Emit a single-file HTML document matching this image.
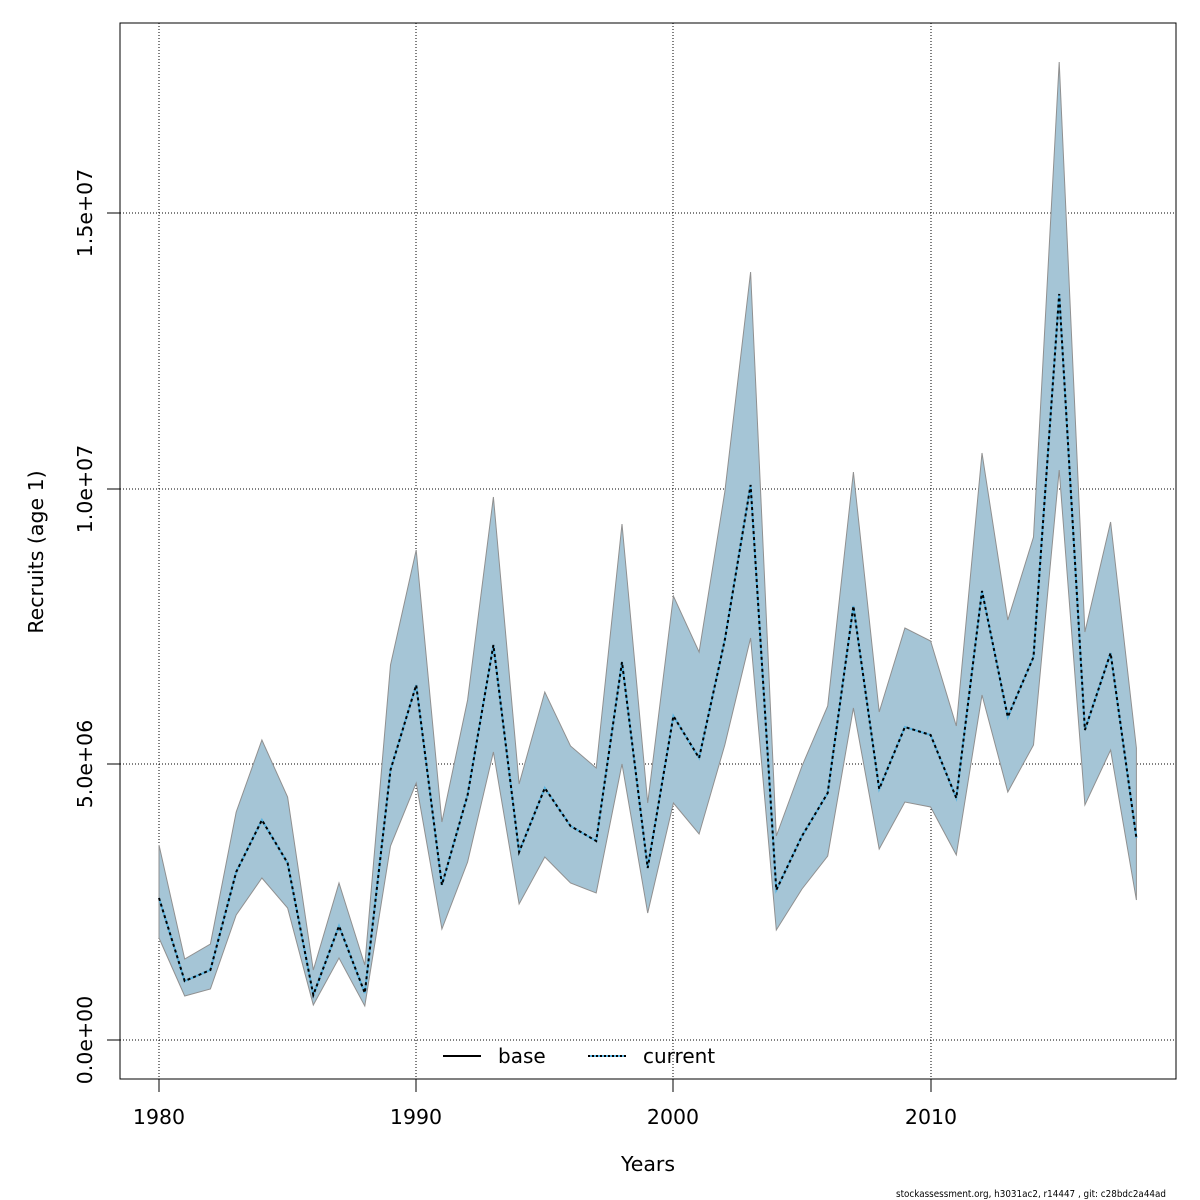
<!DOCTYPE html>
<html><head><meta charset="utf-8"><style>html,body{margin:0;padding:0;background:#fff}svg{display:block}text{font-family:"DejaVu Sans","Liberation Sans",sans-serif;fill:#000}</style></head>
<body>
<svg id="s" width="1200" height="1200" viewBox="0 0 1200 1200" xmlns="http://www.w3.org/2000/svg">
<rect x="0" y="0" width="1200" height="1200" fill="#fff"/>
<g stroke="#000" stroke-width="1" stroke-dasharray="1,2" fill="none">
<line x1="159" y1="23" x2="159" y2="1079"/><line x1="416" y1="23" x2="416" y2="1079"/>
<line x1="673" y1="23" x2="673" y2="1079"/><line x1="931" y1="23" x2="931" y2="1079"/>
<line x1="120" y1="1040" x2="1176" y2="1040"/><line x1="120" y1="764" x2="1176" y2="764"/>
<line x1="120" y1="489" x2="1176" y2="489"/><line x1="120" y1="213" x2="1176" y2="213"/>
</g>
<g id="data"></g>
<rect x="120" y="23" width="1056" height="1056" fill="none" stroke="#000" stroke-width="1"/>
<g stroke="#000" stroke-width="1">
<line x1="159" y1="1079" x2="159" y2="1092"/><line x1="416" y1="1079" x2="416" y2="1092"/>
<line x1="673" y1="1079" x2="673" y2="1092"/><line x1="931" y1="1079" x2="931" y2="1092"/>
<line x1="107" y1="1040" x2="120" y2="1040"/><line x1="107" y1="764" x2="120" y2="764"/>
<line x1="107" y1="489" x2="120" y2="489"/><line x1="107" y1="213" x2="120" y2="213"/>
</g>
<g font-size="20.5" text-anchor="middle">
<text x="159" y="1124">1980</text><text x="416" y="1124">1990</text>
<text x="673" y="1124">2000</text><text x="931" y="1124">2010</text>
<text x="648" y="1171">Years</text>
<text transform="translate(92,1040) rotate(-90)">0.0e+00</text>
<text transform="translate(92,764) rotate(-90)">5.0e+06</text>
<text transform="translate(92,489) rotate(-90)">1.0e+07</text>
<text transform="translate(92,213) rotate(-90)">1.5e+07</text>
<text transform="translate(43,552) rotate(-90)">Recruits (age 1)</text>
</g>
<line x1="443" y1="1056" x2="481" y2="1056" stroke="#000" stroke-width="2"/>
<text x="498" y="1063" font-size="20">base</text>
<line x1="588" y1="1056" x2="626" y2="1056" stroke="#5ab4e0" stroke-width="2"/>
<line x1="588" y1="1056" x2="626" y2="1056" stroke="#000" stroke-width="2" stroke-dasharray="2,2"/>
<text x="643" y="1063" font-size="20">current</text>
<text x="896" y="1197" font-size="10" textLength="270" lengthAdjust="spacingAndGlyphs">stockassessment.org, h3031ac2, r14447 , git: c28bdc2a44ad</text>
</svg>
<script>
var m=[898,981,970,872,820,863,995,926,993,770,685,885,795,645,852,788,826,841,662,868,716,758,640,485,890,836,793,606,789,727,735,798,591,717,657,294,730,653,838];
var u=[845,959,944,812,740,797,970,883,965,665,550,822,700,497,784,692,746,768,524,803,596,652,492,272,836,766,706,472,712,628,641,726,453,620,537,62,632,522,748];
var l=[938,996,989,915,878,908,1005,958,1006,846,783,929,862,752,904,857,883,893,764,913,803,834,745,638,930,889,856,708,849,802,807,855,695,792,745,470,805,750,900];
function X(i){return (159+25.72*i).toFixed(1);}
var poly=[],line=[];
for(var i=0;i<39;i++){poly.push(X(i)+","+u[i]);line.push(X(i)+","+m[i]);}
for(var i=38;i>=0;i--)poly.push(X(i)+","+l[i]);
var g=document.getElementById("data");
g.innerHTML='<polygon points="'+poly.join(" ")+'" fill="#a5c5d6" stroke="#909090" stroke-width="1"/>'+
'<polyline points="'+line.join(" ")+'" fill="none" stroke="#5ab4e0" stroke-width="2"/>'+
'<polyline points="'+line.join(" ")+'" fill="none" stroke="#000" stroke-width="2" stroke-dasharray="3,3"/>';
</script>
</body></html>
